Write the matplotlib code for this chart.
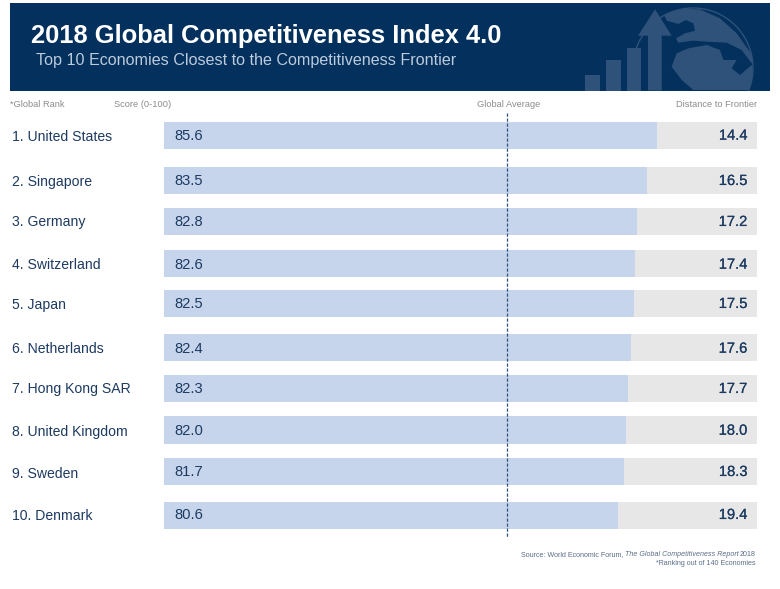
import matplotlib
matplotlib.use("Agg")
import matplotlib.pyplot as plt
import matplotlib.patheffects as pe
from matplotlib.patches import Rectangle, Polygon, Circle

plt.rcParams['font.family'] = ['Liberation Sans', 'DejaVu Sans']

economies = ["1. United States", "2. Singapore", "3. Germany", "4. Switzerland", "5. Japan",
             "6. Netherlands", "7. Hong Kong SAR", "8. United Kingdom", "9. Sweden", "10. Denmark"]
scores = ["85.6", "83.5", "82.8", "82.6", "82.5", "82.4", "82.3", "82.0", "81.7", "80.6"]
distances = ["14.4", "16.5", "17.2", "17.4", "17.5", "17.6", "17.7", "18.0", "18.3", "19.4"]
# Lengths of the blue bars as drawn in the picture, on the 0-100 track
drawn_lengths = [83.2, 81.5, 79.8, 79.5, 79.2, 78.8, 78.3, 77.9, 77.5, 76.5]
global_average_drawn = 57.9

# Layout (pixels)
W, H = 780, 589
row_centers = [135.8, 180.3, 221.7, 263.7, 303.7, 347.2, 388.2, 430.0, 471.3, 515.3]
name_y = [136.7, 181.7, 222.3, 265.0, 305.0, 349.3, 389.3, 432.0, 474.0, 516.5]
value_y = [135.7, 181.0, 222.0, 264.7, 304.0, 348.7, 389.0, 430.7, 472.0, 515.0]
bar_h = 27.3
x0, x1 = 163.7, 757.0

NAVY = "#03305c"
ICON = "#2e527a"
TXT = "#1d3a61"
BLUE = "#c6d5ec"
GREY = "#e7e7e7"
LABEL = "#8c8c8c"
NOTE = "#5a6d87"

fig = plt.figure(figsize=(W / 100, H / 100), dpi=100, facecolor="white")
bg = fig.add_axes([0, 0, 1, 1])
bg.set_xlim(0, W); bg.set_ylim(H, 0); bg.axis("off")

# Header
header = Rectangle((10, 3), 759.5, 87.5, fc=NAVY, ec="none")
bg.add_patch(header)
for x, top, w in [(584.7, 75, 15.3), (606, 60, 14.7), (626.7, 48, 14.3)]:
    bg.add_patch(Rectangle((x, top), w, 90.5 - top, fc=ICON, ec="none"))
# Globe (decorative), zoom-crop coordinates converted to pixels
def z(pts):
    return [(560 + a / 3, b / 3) for a, b in pts]
globe = Circle((693, 68), 60, fc="none", ec=ICON, lw=1.0)
bg.add_patch(globe)
globe.set_clip_path(header)
globe_clip = Circle((693, 68), 60, transform=bg.transData)
eurasia = z([(310, 40), (350, 26), (420, 28), (480, 55), (530, 100), (580, 170), (575, 190),
             (545, 150), (500, 128), (440, 125), (400, 122), (355, 128), (348, 115), (375, 100),
             (405, 92), (400, 70), (378, 60), (355, 72), (320, 62)])
africa = z([(335, 200), (350, 160), (385, 145), (440, 135), (480, 150), (490, 180), (530, 180),
            (515, 205), (540, 225), (575, 195), (590, 270), (400, 270), (365, 240)])
for pts in (eurasia, africa):
    p = Polygon(pts, fc=ICON, ec="none")
    bg.add_patch(p)
    p.set_clip_path(globe_clip)
bg.add_patch(Polygon([(655, 9.3), (671.7, 35.7), (661.7, 35.7), (661.7, 90.5), (648, 90.5),
                      (648, 35.7), (638, 35.7)], fc=ICON, ec="none"))

bg.text(31, 36.5, "2018 Global Competitiveness Index 4.0", color="white", fontsize=18.4,
        fontweight="bold", va="center", ha="left")
bg.text(36, 60, "Top 10 Economies Closest to the Competitiveness Frontier", color="#bccbdd",
        fontsize=11.6, va="center", ha="left")

# Column headers
for x, s, ha in [(10, "*Global Rank", "left"), (114, "Score (0-100)", "left"),
                 (509, "Global Average", "center"), (757, "Distance to Frontier", "right")]:
    bg.text(x, 104.5, s, color=LABEL, fontsize=6.65, va="center", ha=ha)

# Chart
ax = fig.add_axes([x0 / W, 0, (x1 - x0) / W, 1])
ax.set_xlim(0, 100); ax.set_ylim(H, 0); ax.axis("off"); ax.patch.set_alpha(0)
ax.barh(row_centers, [100] * 10, height=bar_h, color=GREY, lw=0)
ax.barh(row_centers, drawn_lengths, height=bar_h, color=BLUE, lw=0)
ax.plot([global_average_drawn] * 2, [113, 538], color="#2f5480", lw=0.9, ls=(0, (2.6, 1.4)))

semi = [pe.withStroke(linewidth=0.12, foreground=TXT)]
for name, s, d, ny, vy in zip(economies, scores, distances, name_y, value_y):
    bg.text(12, ny, name, color=TXT, fontsize=10.1, va="center", ha="left")
    ax.text(1.75, vy, s, color=TXT, fontsize=10.6, va="center", ha="left")
    t2 = ax.text(98.4, vy, d, color=TXT, fontsize=10.6, va="center", ha="right")
    t2.set_path_effects(semi)

# Source notes
fig.canvas.draw()
r = fig.canvas.get_renderer()
x = 756.0
for s, st, gap in [("2018", "normal", 1.3), ("The Global Competitiveness Report", "italic", 1.3),
                   ("Source: World Economic Forum,", "normal", 0)]:
    t = bg.text(x, 554.5, s, color=NOTE, fontsize=5.15, style=st, va="center", ha="right")
    x -= t.get_window_extent(r).width + gap
bg.text(756, 563.5, "*Ranking out of 140 Economies", color=NOTE, fontsize=5.15, va="center", ha="right")

fig.savefig("out.png", dpi=100, facecolor="white")
